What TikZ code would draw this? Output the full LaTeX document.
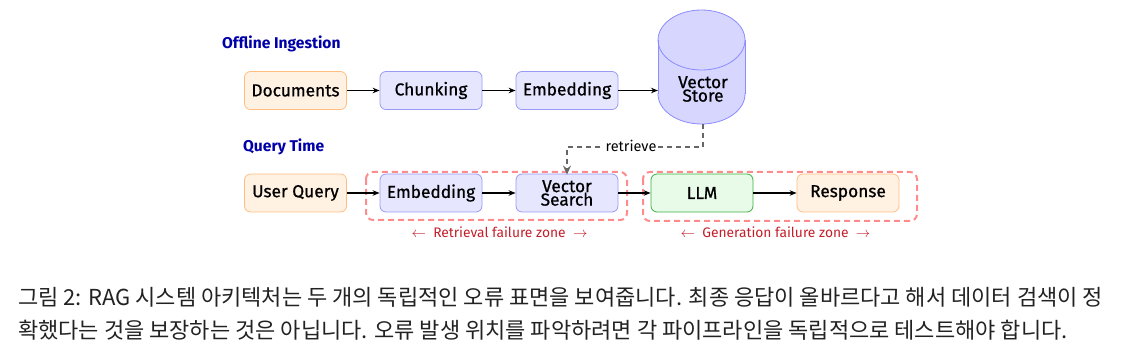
\documentclass[tikz,border=0pt]{standalone}
\usepackage{fontspec}
\setmainfont{Fira Sans}
\newfontfamily\boxfont{Fira Sans}[FakeBold=0.8]
\newfontfamily\krfont{Noto Sans CJK KR}
\usetikzlibrary{arrows.meta}
\definecolor{orfill}{HTML}{FFF2E3}
\definecolor{ordraw}{HTML}{FFBE80}
\definecolor{blfill}{HTML}{E6E6FF}
\definecolor{bldraw}{HTML}{9A9AF5}
\definecolor{grfill}{HTML}{E8FBE8}
\definecolor{grdraw}{HTML}{3CB043}
\definecolor{cyfill}{HTML}{D6D6FF}
\definecolor{cydraw}{HTML}{8C8CFF}
\definecolor{zone}{HTML}{FF8C8C}
\definecolor{headc}{HTML}{0000A8}
\definecolor{failc}{HTML}{C41E2A}
\definecolor{capc}{HTML}{222222}
\tikzset{
  boxbase/.style={rounded corners=6pt, minimum width=102pt, minimum height=38pt, line width=0.8pt, inner sep=0pt, align=center, font=\boxfont\fontsize{17.3}{13.5}\selectfont},
  orbox/.style={boxbase, fill=orfill, draw=ordraw},
  blbox/.style={boxbase, fill=blfill, draw=bldraw},
  grbox/.style={boxbase, fill=grfill, draw=grdraw},
  head/.style={font=\fontsize{15.6}{17}\selectfont\bfseries, text=headc, anchor=west, inner sep=0pt},
  flow/.style={-{Stealth[length=7pt,width=5.5pt]}, line width=1.1pt, black},
  retr/.style={-{Stealth[length=9pt,width=8pt,inset=3pt]}, line width=1.3pt, draw=black!60, dash pattern=on 5pt off 4pt},
  zonebox/.style={draw=zone, line width=2pt, rounded corners=7pt, dash pattern=on 6pt off 4pt},
  faillab/.style={font=\fontsize{13.8}{15}\selectfont, text=failc, inner sep=0pt},
}
\begin{document}
\begin{tikzpicture}[x=1pt,y=-1pt]
\useasboundingbox (0,0) rectangle (1133,355);

% headings
\node[head] (h1) at (222,44) {Offline Ingestion};
\node[head] (h2) at (243,147) {Query Time};

% cylinder (Vector Store)
\fill[cyfill] (658,40) rectangle (745,94);
\fill[cyfill] (701.5,94) ellipse [x radius=43.5, y radius=30];
\fill[cyfill] (701.5,40) ellipse [x radius=43.5, y radius=30];
\draw[cydraw, line width=0.8pt] (701.5,40) ellipse [x radius=43.5, y radius=30];
\draw[cydraw, line width=0.8pt] (658,40) -- (658,94);
\draw[cydraw, line width=0.8pt] (745,40) -- (745,94);
\begin{scope}
  \clip (650,94) rectangle (755,130);
  \draw[cydraw, line width=0.8pt] (701.5,94) ellipse [x radius=43.5, y radius=30];
\end{scope}
\node[font=\boxfont\fontsize{17.3}{13.5}\selectfont, align=center, inner sep=0pt] (store) at (703,89) {Vector\\Store};
\coordinate (storeW) at (658,90.5);
\coordinate (storeS) at (703,124);

% row 1
\node[orbox] (doc) at (295.5,90.5) {Documents};
\node[blbox] (chunk) at (431,90.5) {Chunking};
\node[blbox] (emb1) at (567,90.5) {Embedding};

% row 2
\node[orbox] (uq) at (295.5,193) {User Query};
\node[blbox] (emb2) at (431,193) {Embedding};
\node[blbox] (vs) at (567,193) {Vector\\Search};
\node[grbox] (llm) at (702,193) {LLM};
\node[orbox] (resp) at (848,193) {Response};

% zones
\draw[zonebox] (366,172) rectangle (627,220);
\draw[zonebox] (643,172) rectangle (917,221);
\node[faillab] (rz) at (499.5,232) {$\leftarrow$\ \ Retrieval failure zone\ \ $\rightarrow$};
\node[faillab] (gz) at (775.5,232) {$\leftarrow$\ \ Generation failure zone\ \ $\rightarrow$};

% flows
\draw[flow] (doc) -- (chunk);
\draw[flow] (chunk) -- (emb1);
\draw[flow] (emb1) -- (storeW);
\draw[flow] (uq) -- (emb2);
\draw[flow] (emb2) -- (vs);
\draw[flow] (vs) -- (llm);
\draw[flow] (llm) -- (resp);

% retrieve
\coordinate (rt) at (703,147);
\draw[retr] (storeS) -- (rt) -| ([yshift=-1pt]vs.north);
\node[fill=white, inner sep=2pt, font=\fontsize{14.5}{16}\selectfont] (rl) at (631,145.5) {retrieve};

% caption
\node[anchor=west, inner sep=0pt, text=capc, font=\krfont\fontsize{22}{26}\selectfont] (c1) at (18,297) {그림 2: RAG 시스템 아키텍처는 두 개의 독립적인 오류 표면을 보여줍니다. 최종 응답이 올바르다고 해서 데이터 검색이 정};
\node[anchor=west, inner sep=0pt, text=capc, font=\krfont\fontsize{22}{26}\selectfont] (c2) at (18,330) {확했다는 것을 보장하는 것은 아닙니다. 오류 발생 위치를 파악하려면 각 파이프라인을 독립적으로 테스트해야 합니다.};
\end{tikzpicture}
\end{document}
